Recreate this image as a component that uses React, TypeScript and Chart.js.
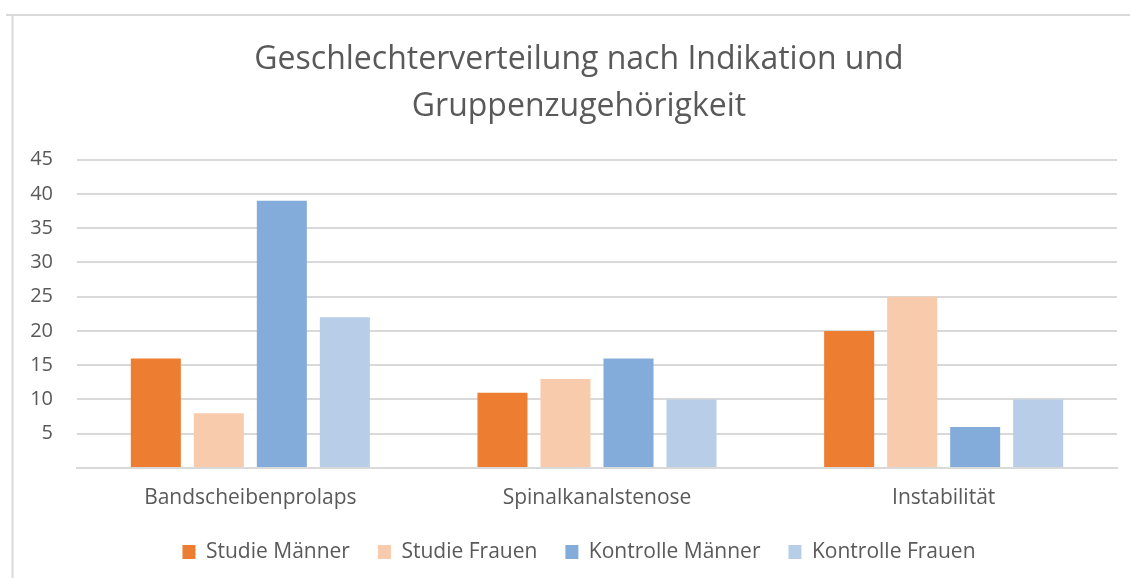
import React, { useEffect, useRef } from "react";
import { Chart, registerables } from "chart.js";

Chart.register(...registerables);

const categories = ["Bandscheibenprolaps", "Spinalkanalstenose", "Instabilität"];
const seriesNames = ["Studie Männer", "Studie Frauen", "Kontrolle Männer", "Kontrolle Frauen"];
const studieMaenner = [16, 11, 20];
const studieFrauen = [8, 13, 25];
const kontrolleMaenner = [39, 16, 6];
const kontrolleFrauen = [22, 10, 10];
const seriesColors = ["#ED7D31", "#F8CBAD", "#84ACDA", "#B8CDE8"];
const titleLines = ["Geschlechterverteilung nach Indikation und", "Gruppenzugehörigkeit"];
const yMax = 45;
const yStep = 5;

const FONT = "'Open Sans', 'Noto Sans', sans-serif";
const TEXT = "#595959";

const frame = {
  id: "frame",
  beforeDraw(chart: any) {
    const ctx = chart.ctx;
    ctx.save();
    ctx.fillStyle = "#ffffff";
    ctx.fillRect(0, 0, chart.width, chart.height);
    ctx.strokeStyle = "#D9D9D9";
    ctx.lineWidth = 2;
    ctx.beginPath();
    ctx.moveTo(6, 15);
    ctx.lineTo(chart.width, 15);
    ctx.moveTo(12.5, 15);
    ctx.lineTo(12.5, chart.height);
    ctx.stroke();
    ctx.restore();
  },
};

export default function App() {
  const ref = useRef<HTMLCanvasElement>(null);
  useEffect(() => {
    document.body.style.margin = "0";
    const values = [studieMaenner, studieFrauen, kontrolleMaenner, kontrolleFrauen];
    const chart = new Chart(ref.current!, {
      type: "bar",
      data: {
        labels: categories,
        datasets: seriesNames.map((n, i) => ({
          label: n,
          data: values[i],
          backgroundColor: seriesColors[i],
          borderWidth: 0,
          barPercentage: 0.794,
          categoryPercentage: 0.727,
        })),
      },
      options: {
        animation: false,
        responsive: false,
        layout: { padding: { left: 28, right: 0, top: 36.75, bottom: 5.5 } },
        plugins: {
          title: {
            display: true,
            text: titleLines,
            color: TEXT,
            font: { family: FONT, size: 32, weight: "normal" as any, lineHeight: 1.453 },
            padding: { top: 0, bottom: 30 },
          },
          legend: {
            position: "bottom",
            labels: {
              color: TEXT,
              font: { family: FONT, size: 21 },
              boxWidth: 13,
              boxHeight: 14,
              padding: 28,
            },
          },
          tooltip: { enabled: false },
        },
        scales: {
          x: {
            afterFit: (s: any) => { s.height = 45.5; },
            grid: { display: false, drawTicks: false },
            border: { display: true, color: "#D9D9D9", width: 2 },
            ticks: { color: TEXT, font: { family: FONT, size: 21 }, padding: 17.5 },
          },
          y: {
            min: 0,
            max: yMax,
            afterFit: (s: any) => { s.width = 49; },
            grid: { color: "#D9D9D9", lineWidth: 2, drawTicks: false },
            border: { display: false },
            ticks: {
              stepSize: yStep,
              color: TEXT,
              font: { family: FONT, size: 20 },
              padding: 24,
              callback: (v: any) => (v === 0 ? "" : String(v)),
            },
          },
          yRight: {
            position: "right",
            afterFit: (s: any) => { s.width = 13; },
            grid: { display: false, drawTicks: false },
            border: { display: false },
            ticks: { display: false },
          },
        },
      },
      plugins: [frame],
    });
    return () => chart.destroy();
  }, []);
  return (
    <div style={{ width: 1130, height: 578 }}>
      <canvas ref={ref} width={1130} height={578} />
    </div>
  );
}
